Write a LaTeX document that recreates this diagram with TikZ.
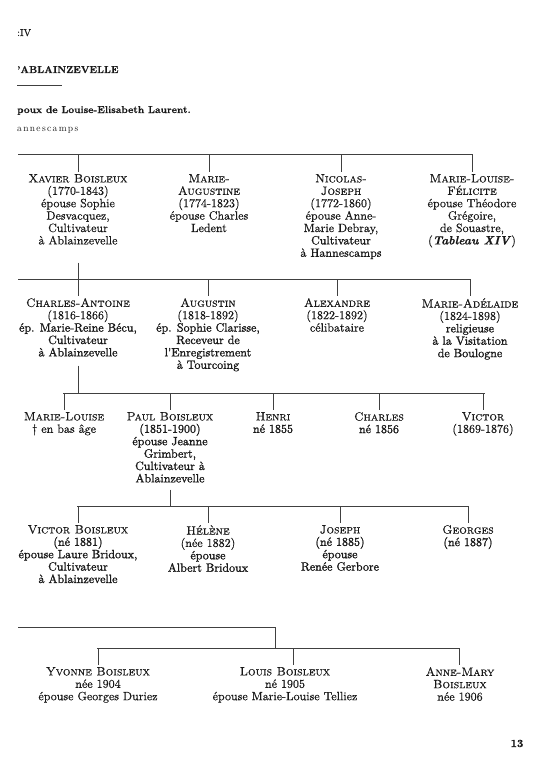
\documentclass[tikz,border=0pt]{standalone}
\usepackage{fontspec}
\usepackage{tikz}
\setmainfont{lmroman10-regular.otf}[
  FakeBold=0.5,
  SmallCapsFont=lmromancaps10-regular.otf,
  SmallCapsFeatures={FakeBold=0.5},
  BoldFont=lmroman10-bold.otf,
  ItalicFont=lmroman10-italic.otf,
  BoldItalicFont=lmroman10-bolditalic.otf]
\newfontfamily\dk{lmroman10-regular.otf}[FakeBold=1.5]
\newfontfamily\spaced{lmroman10-regular.otf}[LetterSpace=14]
\newcommand{\dkl}[1]{{\dk #1}}
\tikzset{
  person/.style={anchor=north, align=center, inner sep=0pt,
    font=\fontsize{12}{12.4}\selectfont, text=black!90},
  link/.style={draw=black!75, line width=0.7pt},
  head/.style={anchor=base west, inner sep=0pt, text=black!90}
}
\begin{document}
\begin{tikzpicture}[x=1pt,y=-1pt]
\useasboundingbox (0,0) rectangle (555,768);

% header
\node[head, font=\fontsize{10}{12}\selectfont] (tab) at (17,36) {:IV};
\node[head, font=\fontsize{10}{12}\selectfont\bfseries] (title) at (17,73) {'ABLAINZEVELLE};
\coordinate (ulL) at (17,85);
\coordinate (ulR) at (62,85);
\draw[link, line width=0.5pt] (ulL) -- (ulR);
\node[head, font=\fontsize{10}{12}\selectfont\bfseries] (sub) at (17,113) {poux de Louise-Elisabeth Laurent.};
\node[head, font=\fontsize{9.5}{12}\spaced\selectfont] (place) at (17,131) {annescamps};

% generation 1
\coordinate (g1L) at (18,154);
\coordinate (g1R) at (473,154);
\draw[link] (g1L) -- (g1R);
\node[person] (xavier) at (78,174) {\textsc{Xavier Boisleux}\\(1770-1843)\\épouse Sophie\\Desvacquez,\\Cultivateur\\à Ablainzevelle};
\node[person] (augustine) at (209,174) {\textsc{Marie-}\\\textsc{Augustine}\\(1774-1823)\\épouse Charles\\Ledent};
\node[person] (nicolas) at (341,174) {\textsc{Nicolas-}\\\textsc{Joseph}\\(1772-1860)\\épouse Anne-\\Marie Debray,\\\dkl{Cultivateur}\\à Hannescamps};
\node[person] (felicite) at (472,174) {\textsc{Marie-Louise-}\\\textsc{Félicite}\\épouse Théodore\\Grégoire,\\de Souastre,\\(\textbf{\textit{Tableau XIV}})};
\foreach \n in {xavier,augustine,nicolas,felicite}
  \draw[link] (\n.north |- g1L) -- ([yshift=2.5pt]\n.north);

% generation 2
\coordinate (g2L) at (18,279);
\coordinate (g2R) at (470,279);
\draw[link] (g2L) -- (g2R);
\draw[link] ([yshift=-18pt]xavier.south) -- (xavier.south |- g2L);
\node[person] (charlesa) at (78,298) {\textsc{Charles-Antoine}\\(1816-1866)\\\dkl{ép. Marie-Reine Bécu,}\\\dkl{Cultivateur}\\\dkl{à Ablainzevelle}};
\node[person] (augustin) at (208,298) {\textsc{Augustin}\\(1818-1892)\\\dkl{ép. Sophie Clarisse,}\\\dkl{Receveur de}\\\dkl{l'Enregistrement}\\\dkl{à Tourcoing}};
\node[person] (alexandre) at (337,298) {\textsc{Alexandre}\\(1822-1892)\\célibataire};
\node[person] (adelaide) at (470,298) {\textsc{Marie-Adélaide}\\(1824-1898)\\\dkl{religieuse}\\\dkl{à la Visitation}\\\dkl{de Boulogne}};
\foreach \n in {charlesa,augustin,alexandre,adelaide}
  \draw[link] (\n.north |- g2L) -- ([yshift=2.5pt]\n.north);

% generation 3
\coordinate (g3L) at (63,393);
\coordinate (g3R) at (485,393);
\draw[link] (g3L) -- (g3R);
\draw[link] ([yshift=-9pt]charlesa.south) -- (charlesa.south |- g3L);
\node[person] (mlouise) at (64,412) {\textsc{Marie-Louise}\\\textdagger{} en bas âge};
\node[person] (paul) at (170,412) {\textsc{Paul Boisleux}\\\dkl{(1851-1900)}\\\dkl{épouse Jeanne}\\\dkl{Grimbert,}\\\dkl{Cultivateur à}\\\dkl{Ablainzevelle}};
\node[person] (henri) at (273,412) {\textsc{Henri}\\\dkl{né 1855}};
\node[person] (charles) at (379,412) {\textsc{Charles}\\\dkl{né 1856}};
\node[person] (victor) at (483,412) {\textsc{Victor}\\(1869-1876)};
\foreach \n in {mlouise,paul,henri,charles,victor}
  \draw[link] (\n.north |- g3L) -- ([yshift=2.5pt]\n.north);

% generation 4
\coordinate (g4L) at (77,506);
\coordinate (g4R) at (468,506);
\draw[link] (g4L) -- (g4R);
\draw[link] ([yshift=-7pt]paul.south) -- (paul.south |- g4L);
\node[person] (victorb) at (78,525) {\textsc{Victor Boisleux}\\\dkl{(né 1881)}\\\dkl{épouse Laure Bridoux,}\\\dkl{Cultivateur}\\\dkl{à Ablainzevelle}};
\node[person] (helene) at (208,525) {\textsc{Hélène}\\(née 1882)\\\dkl{épouse}\\\dkl{Albert Bridoux}};
\node[person] (joseph) at (340,525) {\textsc{Joseph}\\\dkl{(né 1885)}\\\dkl{épouse}\\\dkl{Renée Gerbore}};
\node[person] (georges) at (468,525) {\textsc{Georges}\\\dkl{(né 1887)}};
\foreach \n in {victorb,helene,joseph,georges}
  \draw[link] (\n.north |- g4L) -- ([yshift=2.5pt]\n.north);

% generation 5
\coordinate (g5aL) at (18,627);
\coordinate (g5aR) at (275,627);
\draw[link] (g5aL) -- (g5aR);
\coordinate (g5L) at (97,648);
\coordinate (g5R) at (459,648);
\draw[link] (g5aR) -- (g5aR |- g5L);
\draw[link] (g5L) -- (g5R);
\node[person] (yvonne) at (98,667) {\textsc{Yvonne Boisleux}\\née 1904\\épouse Georges Duriez};
\node[person] (louis) at (285,667) {\textsc{Louis Boisleux}\\né 1905\\épouse Marie-Louise Telliez};
\node[person] (annemary) at (460,667) {\textsc{Anne-Mary}\\\textsc{Boisleux}\\née 1906};
\coordinate (tY) at (98,648);
\coordinate (tL) at (293,648);
\coordinate (tA) at (459,648);
\draw[link] (tY) -- ([yshift=2.5pt]tY |- yvonne.north);
\draw[link] (tL) -- ([yshift=2.5pt]tL |- louis.north);
\draw[link] (tA) -- ([yshift=2.5pt]tA |- annemary.north);

% page number
\node[anchor=base, inner sep=0pt, font=\fontsize{11}{13}\selectfont\bfseries, text=black!90] (page) at (517,747) {13};
\end{tikzpicture}
\end{document}
